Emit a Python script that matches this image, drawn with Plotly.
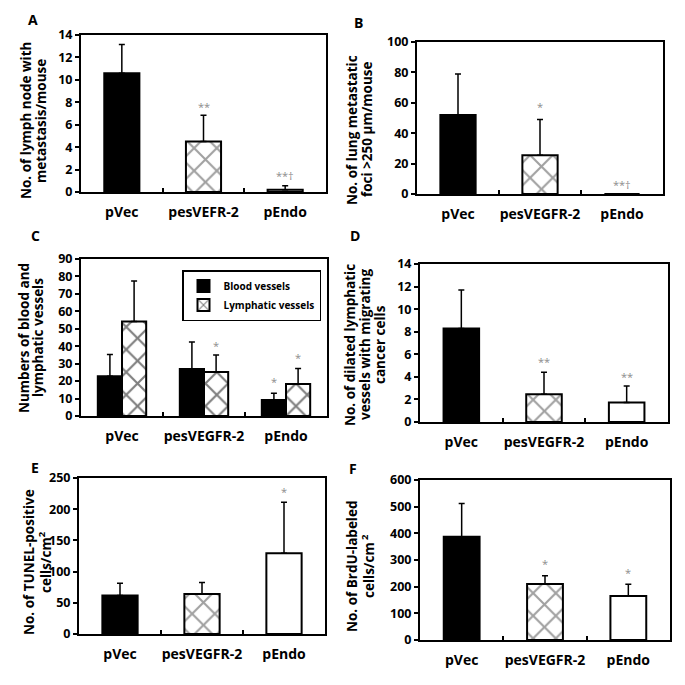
import plotly.graph_objects as go

# ---------------- data ----------------
cats_A = ["pVec", "pesVEFR-2", "pEndo"]
cats = ["pVec", "pesVEGFR-2", "pEndo"]

A_mean = [10.6, 4.5, 0.2]
A_err = [2.55, 2.35, 0.36]
A_sig = ["", "**", "**†"]
A_sig_y = [None, 7.65, 1.45]

B_mean = [52.0, 25.5, 0.0]
B_err = [27.0, 23.5, None]
B_sig = ["", "*", "**†"]
B_sig_y = [None, 57.4, 6.0]

C_blood_mean = [22.8, 26.9, 9.2]
C_blood_err = [12.4, 15.5, 3.8]
C_blood_sig = ["", "", "*"]
C_blood_sig_y = [None, None, 19.5]
C_lymph_mean = [54.2, 25.2, 18.3]
C_lymph_err = [23.2, 9.8, 9.0]
C_lymph_sig = ["", "*", "*"]
C_lymph_sig_y = [None, 40.7, 33.3]

D_mean = [8.28, 2.46, 1.72]
D_err = [3.42, 1.94, 1.48]
D_sig = ["", "**", "**"]
D_sig_y = [None, 5.34, 4.0]

E_mean = [61.6, 64.2, 129.5]
E_err = [19.8, 18.2, 81.5]
E_sig = ["", "", "*"]
E_sig_y = [None, None, 228.0]

F_mean = [387.5, 210.0, 165.0]
F_err = [124.5, 31.0, 44.0]
F_sig = ["", "*", "*"]
F_sig_y = [None, 287.0, 252.0]

y_ranges = {"A": (0, 14, 2), "B": (0, 100, 20), "C": (0, 90, 10),
            "D": (0, 14, 2), "E": (0, 250, 50), "F": (0, 600, 100)}
y_titles = {
    "A": ["No. of lymph node with", "metastasis/mouse"],
    "B": ["No. of lung metastatic", "foci >250 μm/mouse"],
    "C": ["Numbers of blood and", "lymphatic vessels"],
    "D": ["No. of dilated lymphatic", "vessels with migrating", "cancer cells"],
    "E": ["No. of TUNEL-positive", "cells/cm<sup>2</sup>"],
    "F": ["No. of BrdU-labeled", "cells/cm<sup> 2</sup>"],
}

# ---------------- layout geometry (pixels) ----------------
W = H = 685
FONT = "Open Sans"
boxes = {  # x0, x1, y0(top), y1(bottom)
    "A": (81, 326, 35, 192), "B": (417, 663, 42, 194),
    "C": (81, 327, 259, 416), "D": (420, 668, 264, 422),
    "E": (79, 325, 478, 634), "F": (420, 670, 480, 640),
}
# x centre of each title line, y centre of the title block
ylab_x = {"A": [26, 41], "B": [352, 367], "C": [24, 38],
          "D": [350, 365, 380], "E": [29, 45], "F": [352, 368]}
ylab_y = {"A": 121, "B": 130, "C": 338, "D": 345, "E": 562, "F": 566}
letter_pos = {"A": (33, 20), "B": (358, 22), "C": (35, 235),
              "D": (355, 235), "E": (35, 467), "F": (353, 468)}

fills = ["black", "white", "white"]
shapes = ["", "x", ""]

fig = go.Figure()
annotations = []
panels = ["A", "B", "C", "D", "E", "F"]

PATTERN_SIZE = 16
PATTERN_SOLID = 0.25


def axname(i):
    return ("x", "y") if i == 1 else (f"x{i}", f"y{i}")


def err_dict(arr):
    return dict(type="data", array=arr, arrayminus=[0] * len(arr), symmetric=False,
                color="black", thickness=1.5, width=3)


def add_sig(xr, yr, xs, texts, ys):
    for xv, t, yv in zip(xs, texts, ys):
        if t:
            annotations.append(dict(x=xv, y=yv, xref=xr, yref=yr, text=t, showarrow=False,
                                    font=dict(family=FONT, size=11, color="#8c8c8c")))


single = {"A": (cats_A, A_mean, A_err, A_sig, A_sig_y),
          "B": (cats, B_mean, B_err, B_sig, B_sig_y),
          "D": (cats, D_mean, D_err, D_sig, D_sig_y),
          "E": (cats, E_mean, E_err, E_sig, E_sig_y),
          "F": (cats, F_mean, F_err, F_sig, F_sig_y)}

for i, p in enumerate(panels, start=1):
    xa, ya = axname(i)
    if p == "C":
        gw = 0.295
        fig.add_trace(go.Bar(x=cats, y=C_blood_mean, xaxis=xa, yaxis=ya, name="Blood vessels",
                             width=gw, offset=-gw,
                             marker=dict(color="black", line=dict(color="black", width=2)),
                             error_y=err_dict(C_blood_err), showlegend=True))
        fig.add_trace(go.Bar(x=cats, y=C_lymph_mean, xaxis=xa, yaxis=ya, name="Lymphatic vessels",
                             width=gw, offset=0,
                             marker=dict(color="white", line=dict(color="black", width=2),
                                         pattern=dict(shape="x", size=PATTERN_SIZE,
                                                      solidity=PATTERN_SOLID,
                                                      fgcolor="black", bgcolor="white")),
                             error_y=err_dict(C_lymph_err), showlegend=True))
        add_sig(xa, ya, [k - gw / 2 for k in range(len(cats))], C_blood_sig, C_blood_sig_y)
        add_sig(xa, ya, [k + gw / 2 for k in range(len(cats))], C_lymph_sig, C_lymph_sig_y)
    else:
        cc, mean, err, sig, sig_y = single[p]
        fig.add_trace(go.Bar(x=cc, y=mean, xaxis=xa, yaxis=ya, width=0.43, showlegend=False,
                             marker=dict(color=fills, line=dict(color="black", width=2),
                                         pattern=dict(shape=shapes, size=PATTERN_SIZE,
                                                      solidity=PATTERN_SOLID,
                                                      fgcolor="black")),
                             error_y=err_dict(err)))
        add_sig(xa, ya, list(range(len(cc))), sig, sig_y)

    x0, x1, y0, y1 = boxes[p]
    lo, hi, dt = y_ranges[p]
    xkey = "xaxis" if i == 1 else f"xaxis{i}"
    ykey = "yaxis" if i == 1 else f"yaxis{i}"
    fig.update_layout({
        xkey: dict(domain=[x0 / W, x1 / W], anchor=ya, type="category", range=[-0.5, 2.5],
                   showline=True, mirror=True, linecolor="black", linewidth=2,
                   tickson="boundaries", ticks="inside", ticklen=4, tickwidth=2, tickcolor="black",
                   showgrid=False, fixedrange=True, ticklabelstandoff=6, tickangle=0,
                   automargin=False,
                   tickfont=dict(family=FONT, size=14, color="black", weight="bold")),
        ykey: dict(domain=[1 - y1 / H, 1 - y0 / H], anchor=xa, range=[lo, hi], dtick=dt,
                   showline=True, mirror=True, linecolor="black", linewidth=2,
                   ticks="outside", ticklen=4, tickwidth=2, tickcolor="black",
                   showgrid=False, zeroline=False, automargin=False, fixedrange=True,
                   tickfont=dict(family=FONT, size=12.5, color="black", weight="bold")),
    })
    for line, lx in zip(y_titles[p], ylab_x[p]):
        annotations.append(dict(x=lx / W, y=1 - ylab_y[p] / H, xref="paper", yref="paper",
                                text=line, textangle=-90, showarrow=False,
                                xanchor="center", yanchor="middle",
                                font=dict(family=FONT, size=13.5, color="black", weight="bold")))
    tx, ty = letter_pos[p]
    annotations.append(dict(x=tx / W, y=1 - ty / H, xref="paper", yref="paper",
                            text=p, showarrow=False, xanchor="center", yanchor="middle",
                            font=dict(family=FONT, size=14, color="black", weight="bold")))

fig.update_layout(
    width=W, height=H, margin=dict(l=0, r=0, t=0, b=0, autoexpand=False),
    paper_bgcolor="white", plot_bgcolor="white", barmode="overlay",
    annotations=annotations, hovermode=False,
    legend=dict(x=321 / W, y=1 - 270 / H, xanchor="right", yanchor="top",
                bordercolor="black", borderwidth=1.5, bgcolor="white",
                font=dict(family=FONT, size=10, color="black", weight="bold"),
                itemwidth=30, tracegroupgap=0),
)

fig.write_html("out.html", config={"displayModeBar": False},
               post_script="document.body.style.margin='0';document.body.style.overflow='hidden';")
